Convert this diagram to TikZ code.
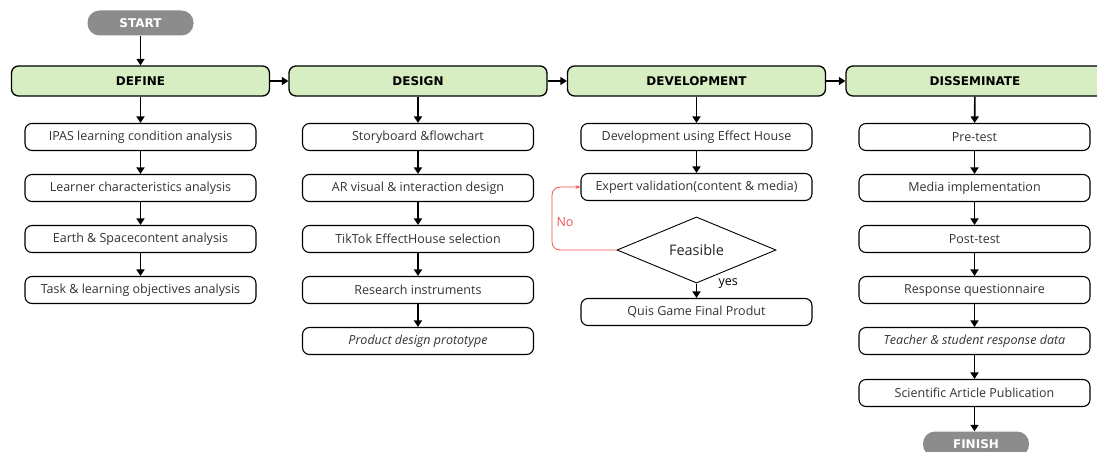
\documentclass[tikz,border=0pt]{standalone}
\usepackage{fontspec}
\setmainfont{Open Sans}
\newfontfamily\headfont{DejaVu Sans}
\usepackage{tikz}
\usetikzlibrary{positioning,arrows.meta,shapes.geometric}

\definecolor{stagegreen}{RGB}{214,238,194}
\definecolor{termgray}{RGB}{140,140,140}
\definecolor{loopred}{RGB}{240,80,80}

\begin{document}
\begin{tikzpicture}[
  x=1pt, y=-1pt,
  stage/.style={
    rectangle, rounded corners=7pt, minimum width=258pt, minimum height=30pt,
    draw=black, line width=1.3pt, fill=stagegreen, font=\headfont\bfseries\fontsize{12}{14}\selectfont
  },
  task/.style={
    rectangle, rounded corners=7pt, minimum width=231pt, minimum height=27pt,
    draw=black, line width=1.1pt, fill=white, text=black!80, font=\fontsize{12.5}{14}\selectfont
  },
  terminal/.style={
    rectangle, rounded corners=12pt, minimum width=106pt, minimum height=25pt,
    fill=termgray, text=white, font=\headfont\bfseries\fontsize{12}{14}\selectfont
  },
  decision/.style={
    diamond, minimum width=159pt, minimum height=46pt, inner sep=0pt,
    draw=black, line width=0.9pt, fill=white, text=black!85, font=\fontsize{14.5}{16}\selectfont
  },
  arrow/.style={-{Triangle[length=6.5pt, width=8pt]}, line width=1.6pt, black},
  noloop/.style={-{Stealth[length=5pt]}, line width=0.8pt, loopred, rounded corners=8pt},
  label/.style={font=\fontsize{12.5}{14}\selectfont}
]
\useasboundingbox (0,0) rectangle (1097,452);

% === Terminals ===
\node[terminal] (start) at (140.5,23) {START};
\node[terminal] (finish) at (976,444) {FINISH};

% === Stage boxes ===
\node[stage] (def) at (140.5,81) {DEFINE};
\node[stage] (des) at (418,81) {DESIGN};
\node[stage] (dev) at (696.5,81) {DEVELOPMENT};
\node[stage] (dis) at (975,81) {DISSEMINATE};

% === Main flow arrows ===
\draw[arrow] (start) -- (def);
\draw[arrow] (def) -- (des);
\draw[arrow] (des) -- (dev);
\draw[arrow] (dev) -- (dis);

% === Define steps ===
\node[task] (def1) at (140.5,137) {IPAS learning condition analysis};
\node[task] (def2) at (140.5,188) {Learner characteristics analysis};
\node[task] (def3) at (140.5,239) {Earth \& Spacecontent analysis};
\node[task] (def4) at (140.5,290) {Task \& learning objectives analysis};

\draw[arrow] (def) -- (def1);
\draw[arrow] (def1) -- (def2);
\draw[arrow] (def2) -- (def3);
\draw[arrow] (def3) -- (def4);

% === Design steps ===
\node[task] (des1) at (418,137) {Storyboard \&flowchart};
\node[task] (des2) at (418,188) {AR visual \& interaction design};
\node[task] (des3) at (418,239) {TikTok EffectHouse selection};
\node[task] (des4) at (418,290) {Research instruments};
\node[task, font=\itshape\fontsize{12.5}{14}\selectfont] (des5) at (418,341) {Product design prototype};

\draw[arrow] (des) -- (des1);
\draw[arrow] (des1) -- (des2);
\draw[arrow] (des2) -- (des3);
\draw[arrow] (des3) -- (des4);
\draw[arrow] (des4) -- (des5);

% === Development steps ===
\node[task] (dev1) at (696.5,137) {Development using Effect House};
\node[task] (dev2) at (696.5,187) {Expert validation(content \& media)};
\node[decision] (feas) at (696.5,250) {Feasible};
\node[task] (dev3) at (696.5,312) {Quis Game Final Produt};

\draw[arrow] (dev) -- (dev1);
\draw[arrow] (dev1) -- (dev2);
\draw[arrow] (feas) -- (dev3);
\node[label, anchor=west] (yes) at (715,284) {yes};

% === Revision loop ===
\coordinate (nobend) at (552,250);
\draw[noloop] (feas.west) -- (nobend) |- (dev2.west);
\node[label, text=loopred, anchor=west] (no) at (553,222) {No};

% === Disseminate steps ===
\node[task] (dis1) at (974.5,137) {Pre-test};
\node[task] (dis2) at (974.5,188) {Media implementation};
\node[task] (dis3) at (974.5,239) {Post-test};
\node[task] (dis4) at (974.5,290) {Response questionnaire};
\node[task, font=\itshape\fontsize{12.5}{14}\selectfont] (dis5) at (974.5,341) {Teacher \& student response data};
\node[task] (dis6) at (974.5,393) {Scientific Article Publication};

\draw[arrow] (dis) -- (dis1);
\draw[arrow] (dis1) -- (dis2);
\draw[arrow] (dis2) -- (dis3);
\draw[arrow] (dis3) -- (dis4);
\draw[arrow] (dis4) -- (dis5);
\draw[arrow] (dis5) -- (dis6);
\draw[arrow] (dis6.south) -- (dis6.south |- finish.north);

\end{tikzpicture}
\end{document}
